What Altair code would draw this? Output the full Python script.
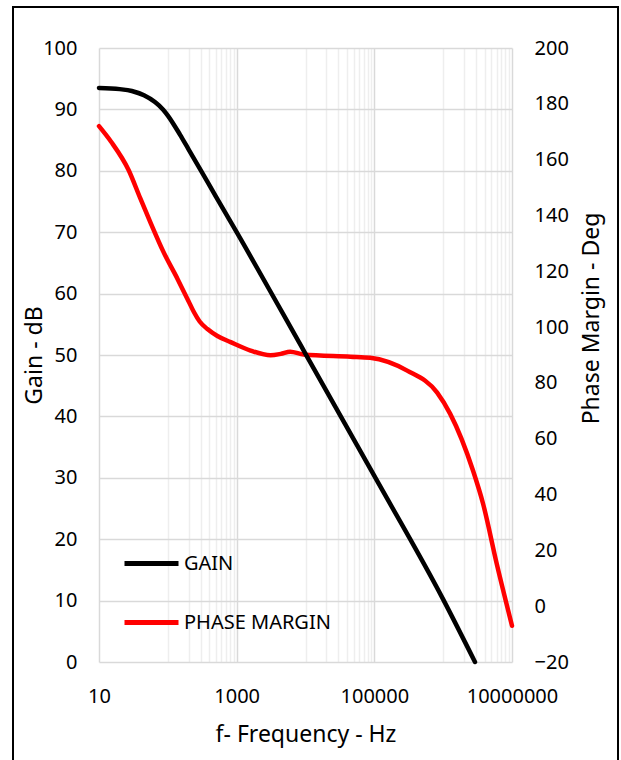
import altair as alt
import pandas as pd

# ---- data ----
gain_freq = [10, 20, 30, 45, 65, 85, 100, 150, 200, 300, 500, 1000, 10000, 100000, 1000000, 2900000]
gain_db = [93.5, 93.3, 93.0, 92.3, 91.2, 90.0, 89.0, 85.9, 83.5, 80.1, 75.8, 70.0, 50.2, 30.3, 10.2, 0.0]

pm_freq = [10, 15, 27, 40, 57, 85, 140, 200, 240, 290, 376, 525, 818, 1590, 3100, 4370, 6000, 9450,
           45000, 87000, 300000, 818000, 1260000, 2720000, 3800000, 6000000, 10000000]
pm_deg = [172.0, 166.4, 156.2, 146.0, 137.0, 127.3, 117.0, 109.3, 105.3, 102.0, 99.3, 96.8, 94.6, 91.6,
          89.9, 90.4, 91.2, 90.2, 89.4, 89.0, 84.4, 76.5, 69.0, 48.5, 36.7, 15.2, -7.0]

series_names = ["GAIN", "PHASE MARGIN"]
series_colors = ["#000000", "#ff0000"]

major_ticks = [10, 1000, 100000, 10000000]
minor_ticks = [100, 200, 300, 400, 500, 600, 700, 800, 900,
               10000, 20000, 30000, 40000, 50000, 60000, 70000, 80000, 90000,
               1000000, 2000000, 3000000, 4000000, 5000000, 6000000, 7000000, 8000000, 9000000]
gain_ticks = [0, 10, 20, 30, 40, 50, 60, 70, 80, 90, 100]
pm_ticks = [-20, 0, 20, 40, 60, 80, 100, 120, 140, 160, 180, 200]

FONT = "Noto Sans"
PLOT_W, PLOT_H = 413, 614

gain_df = pd.DataFrame({"f": gain_freq, "gain": gain_db, "series": series_names[0]})
pm_df = pd.DataFrame({"f": pm_freq, "pm": pm_deg, "series": series_names[1]})

major_list = "[" + ",".join(str(v) for v in major_ticks) + "]"

x_axis = alt.Axis(
    values=major_ticks + minor_ticks,
    format="d",
    labelExpr=f"indexof({major_list}, datum.value) >= 0 ? datum.label : ''",
    labelOverlap=False,
    labelFlush=False,
    grid=True,
    gridColor={"condition": {"test": f"indexof({major_list}, datum.value) >= 0", "value": "#d9d9d9"},
               "value": "#eeeeee"},
    gridWidth=1.5,
    domain=False,
    ticks=False,
    tickSize=0,
    labelPadding=24,
    labelFontSize=20,
    labelFont=FONT,
    labelColor="#000000",
    title="f- Frequency - Hz",
    titleFontSize=23,
    titleFont=FONT,
    titleFontWeight="normal",
    titleColor="#000000",
    titlePadding=17,
)

x_enc = alt.X("f:Q", scale=alt.Scale(type="log", domain=[10, 10000000]), axis=x_axis)

color_enc = alt.Color(
    "series:N",
    scale=alt.Scale(domain=series_names, range=series_colors),
    legend=alt.Legend(
        title=None,
        orient="none",
        legendX=23,
        legendY=486,
        symbolType="stroke",
        symbolSize=2916,
        symbolStrokeWidth=5,
        labelFontSize=20,
        labelFont=FONT,
        labelColor="#000000",
        labelOffset=3,
        rowPadding=19,
        padding=0,
    ),
)

gain_line = alt.Chart(gain_df).mark_line(strokeWidth=4.5, interpolate="monotone", strokeCap="round").encode(
    x=x_enc,
    y=alt.Y("gain:Q", scale=alt.Scale(domain=[0, 100]),
            axis=alt.Axis(values=gain_ticks, grid=True, gridColor="#d9d9d9", gridWidth=1.5,
                          domain=False, ticks=False, tickSize=0, labelPadding=22,
                          labelFontSize=20, labelFont=FONT, labelColor="#000000",
                          title="Gain - dB", titleFontSize=23, titleFont=FONT,
                          titleFontWeight="normal", titleColor="#000000",
                          titleX=-65, titleY=PLOT_H / 2, titleAngle=270, titleBaseline="middle")),
    color=color_enc,
)

pm_line = alt.Chart(pm_df).mark_line(strokeWidth=4.5, interpolate="monotone", strokeCap="round").encode(
    x=x_enc,
    y=alt.Y("pm:Q", scale=alt.Scale(domain=[-20, 200]),
            axis=alt.Axis(orient="right", values=pm_ticks, grid=False,
                          domain=False, ticks=False, tickSize=0, labelPadding=22,
                          labelFontSize=20, labelFont=FONT, labelColor="#000000",
                          title="Phase Margin - Deg", titleFontSize=23, titleFont=FONT,
                          titleFontWeight="normal", titleColor="#000000",
                          titleX=79, titleY=270, titleAngle=270, titleBaseline="middle")),
    color=color_enc,
)

frame = alt.Chart(pd.DataFrame({"a": [0]})).mark_rect(filled=False, stroke="#000000", strokeWidth=2).encode(
    x=alt.value(-86), x2=alt.value(519), y=alt.value(-41), y2=alt.value(760)
)

chart = alt.layer(pm_line, gain_line, frame).resolve_scale(y="independent").properties(
    width=PLOT_W,
    height=PLOT_H,
    padding={"left": 99, "top": 48, "right": 109, "bottom": 98},
    autosize=alt.AutoSizeParams(type="none"),
    background="#ffffff",
).configure_view(stroke=None)

chart.save("out.html", embed_options={"renderer": "svg", "actions": False})
